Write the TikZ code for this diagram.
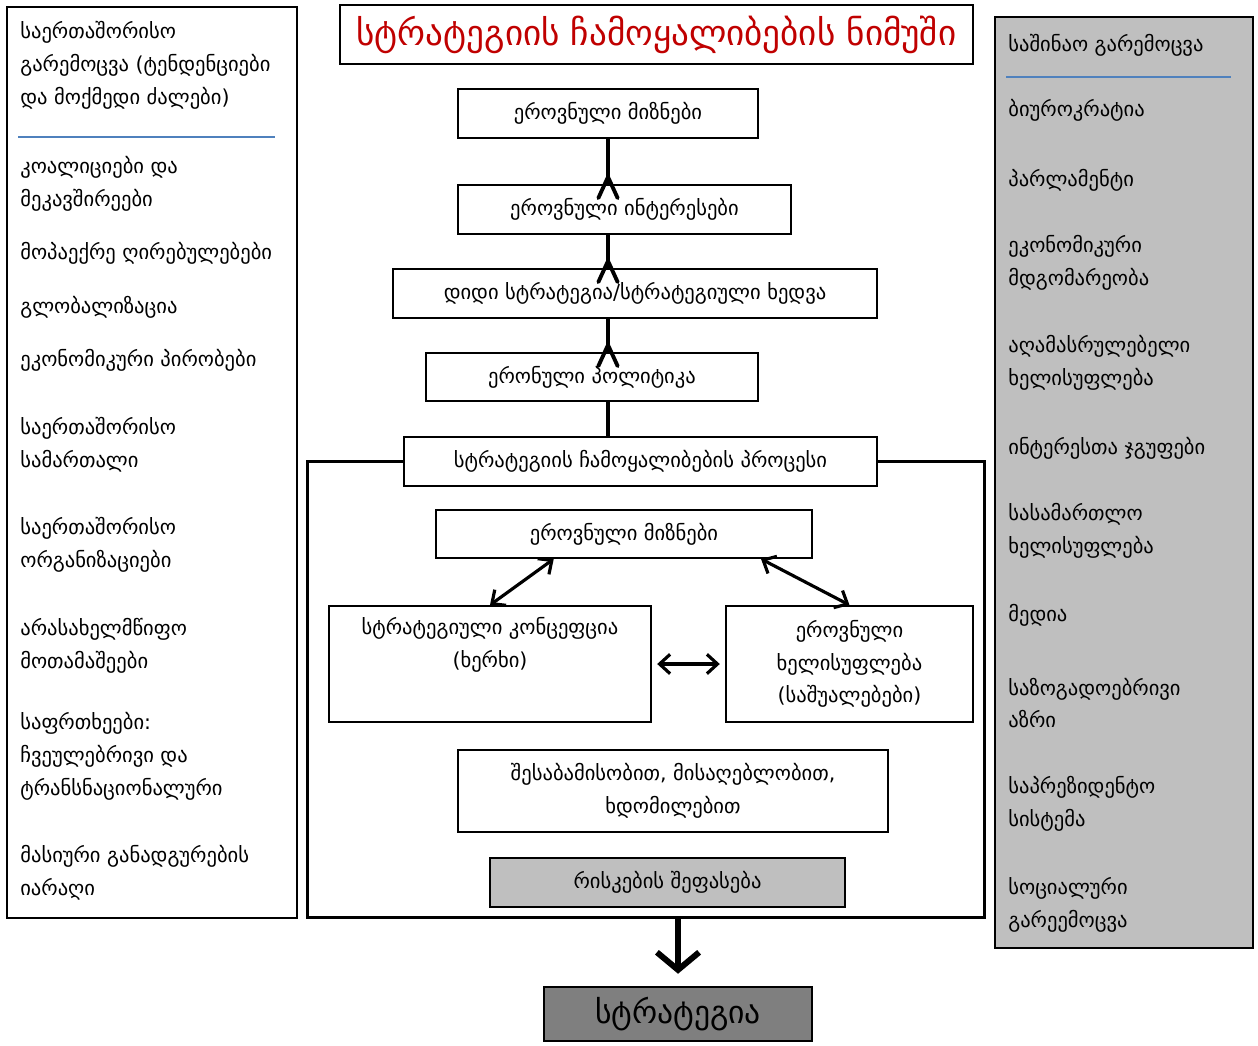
\documentclass[tikz,border=0pt]{standalone}
\usepackage{fontspec}
\setmainfont{DejaVu Sans}
\usetikzlibrary{arrows.meta}
\definecolor{titlered}{HTML}{C00000}
\definecolor{lightfill}{HTML}{BFBFBF}
\definecolor{darkfill}{HTML}{7F7F7F}
\definecolor{ruleblue}{HTML}{4F81BD}

\tikzset{upbarb/.pic={\draw[line width=2.2pt,line join=round,line cap=round] (-5.5pt,-8pt) -- (0,4pt) -- (5.5pt,-8pt);}}

\begin{document}
\begin{tikzpicture}[x=0.02cm,y=-0.02cm,>={Straight Barb[length=6pt,width=11pt]},
  main node/.style={draw,line width=1.1pt,fill=white,inner sep=0pt,align=center,font=\fontsize{11.7}{18.7}\selectfont},
  side item/.style={anchor=west,inner sep=0pt,align=left,font=\fontsize{11.7}{18.7}\selectfont},
  panel/.style={draw,line width=1.4pt,inner sep=0pt},
  link/.style={line width=2.8pt},
  both way/.style={<->,line width=1.8pt}]
\useasboundingbox (0,0) rectangle (1258,1045);

% side panels
\node[panel,minimum width=5.8cm,minimum height=18.22cm] (outer) at (152,462.5) {};
\node[panel,fill=lightfill,minimum width=5.16cm,minimum height=18.62cm] (inner) at (1124,482.5) {};
\draw[ruleblue,line width=0.6pt] (18,137) -- (275,137);
\draw[ruleblue,line width=0.6pt] (1006,77) -- (1231,77);

\node[side item] (l1) at (20,65) {საერთაშორისო\\გარემოცვა (ტენდენციები\\და მოქმედი ძალები)};
\node[side item] (l2) at (20,184) {კოალიციები და\\მეკავშირეები};
\node[side item] (l3) at (20,253) {მოპაექრე ღირებულებები};
\node[side item] (l4) at (20,307) {გლობალიზაცია};
\node[side item] (l5) at (20,360) {ეკონომიკური პირობები};
\node[side item] (l6) at (20,445) {საერთაშორისო\\სამართალი};
\node[side item] (l7) at (20,545) {საერთაშორისო\\ორგანიზაციები};
\node[side item] (l8) at (20,646) {არასახელმწიფო\\მოთამაშეები};
\node[side item] (l9) at (20,756) {საფრთხეები:\\ჩვეულებრივი და\\ტრანსნაციონალური};
\node[side item] (l10) at (20,873) {მასიური განადგურების\\იარაღი};

\node[side item] (r1) at (1008,45) {საშინაო გარემოცვა};
\node[side item] (r2) at (1008,110) {ბიუროკრატია};
\node[side item] (r3) at (1008,180) {პარლამენტი};
\node[side item] (r4) at (1008,263) {ეკონომიკური\\მდგომარეობა};
\node[side item] (r5) at (1008,363) {აღამასრულებელი\\ხელისუფლება};
\node[side item] (r6) at (1008,448) {ინტერესთა ჯგუფები};
\node[side item] (r7) at (1008,531) {სასამართლო\\ხელისუფლება};
\node[side item] (r8) at (1008,615) {მედია};
\node[side item] (r9) at (1008,703) {საზოგადოებრივი\\აზრი};
\node[side item] (r10) at (1008,804) {საპრეზიდენტო\\სისტემა};
\node[side item] (r11) at (1008,905) {სოციალური\\გარეემოცვა};

% title
\node[main node,text=titlered,font=\fontsize{20}{23}\selectfont,minimum width=12.66cm,minimum height=1.18cm] (title) at (656.5,34.5) {სტრატეგიის ჩამოყალიბების ნიმუში};

% process frame
\node[draw,line width=1.7pt,minimum width=13.56cm,minimum height=9.14cm] (frame) at (646,689.5) {};

\node[main node,minimum width=6cm,minimum height=0.98cm] (1) at (608,113.5) {ეროვნული მიზნები};
\node[main node,minimum width=6.66cm,minimum height=0.98cm] (2) at (624.5,209.5) {ეროვნული ინტერესები};
\node[main node,minimum width=9.68cm,minimum height=0.98cm] (3) at (635,293.5) {დიდი სტრატეგია/სტრატეგიული ხედვა};
\node[main node,minimum width=6.64cm,minimum height=0.96cm] (4) at (592,377) {ერონული პოლიტიკა};
\node[main node,minimum width=9.46cm,minimum height=0.98cm] (5) at (640.5,461.5) {სტრატეგიის ჩამოყალიბების პროცესი};
\node[main node,minimum width=7.52cm,minimum height=0.96cm] (6) at (624,534) {ეროვნული მიზნები};
\node[main node,minimum width=6.44cm,minimum height=2.32cm] (7) at (490,664) {სტრატეგიული კონცეფცია\\(ხერხი)\\\strut};
\node[main node,minimum width=4.94cm,minimum height=2.32cm] (8) at (849.5,664) {ეროვნული\\ხელისუფლება\\(საშუალებები)};
\node[main node,minimum width=8.6cm,minimum height=1.64cm] (9) at (673,791) {შესაბამისობით, მისაღებლობით,\\ხდომილებით};
\node[main node,fill=lightfill,minimum width=7.1cm,minimum height=0.98cm] (10) at (667.5,882.5) {რისკების შეფასება};
\node[main node,fill=darkfill,font=\fontsize{18}{21}\selectfont,minimum width=5.36cm,minimum height=1.08cm] (11) at (678,1014) {სტრატეგია};

% upward chain
\draw[link] (1.south) -- (1.south |- 2.north);
\draw[link] (1.south |- 2.south) -- (1.south |- 3.north);
\draw[link] (1.south |- 3.south) -- (1.south |- 4.north);
\draw[link] (1.south |- 4.south) -- (1.south |- 5.north);
\pic at (1.south |- 2.north) {upbarb};
\pic at (1.south |- 3.north) {upbarb};
\pic at (1.south |- 4.north) {upbarb};

% inside the process
\draw[both way] ([xshift=-40pt]6.south) -- (7.north);
\draw[both way] ([xshift=78pt]6.south) -- (8.north);
\draw[both way,shorten <=3pt,shorten >=3pt] (7.east) -- (8.west);

\draw[line width=3.4pt,-{Straight Barb[length=10pt,width=24pt]}] (frame.south -| 11.north) -- ([yshift=7pt]11.north);
\end{tikzpicture}
\end{document}
